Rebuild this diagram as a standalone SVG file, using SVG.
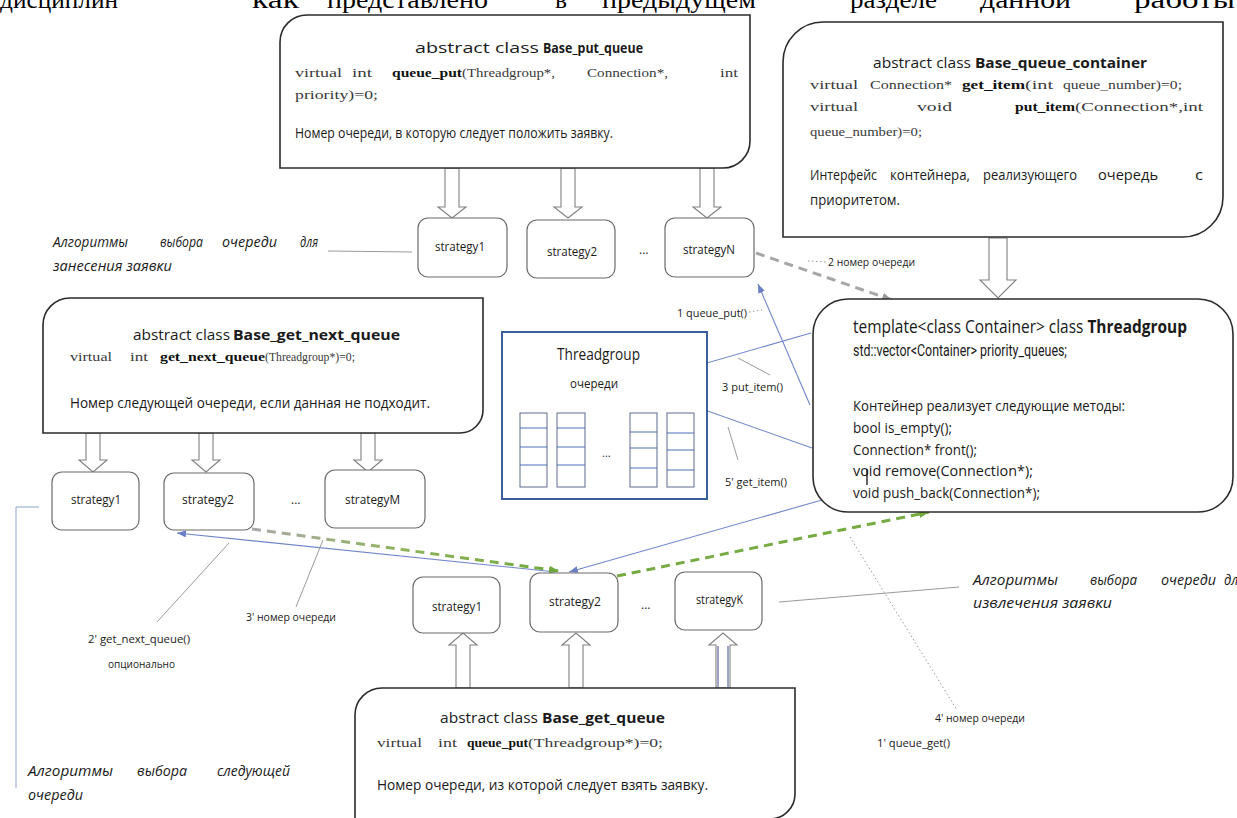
<svg xmlns="http://www.w3.org/2000/svg" width="1237" height="818" viewBox="0 0 1237 818">
<defs>
<style>
.box{fill:#fff;stroke:#2b2b2b;stroke-width:1.6}
.strat{fill:#fff;stroke:#6b6b6b;stroke-width:1.2}
.harrow{fill:#fff;stroke:#808080;stroke-width:1.1}
.t{font-family:"Open Sans","Liberation Sans",sans-serif;fill:#1a1a1a}
.title{font-size:15px}
.b{font-weight:bold}
.code{font-family:"Liberation Serif",serif;font-size:13.5px;fill:#3a3a3a}
.cb{font-family:"Liberation Serif",serif;font-size:13.5px;font-weight:bold;fill:#111}
.ru{font-size:14px}
.it{font-style:italic;font-size:14px}
.lbl{font-size:10px}
.st{font-size:12px}
.head{font-family:"Liberation Serif",serif;font-size:26px;fill:#000}
.blue{stroke:#7086cc;stroke-width:1.1;fill:none}
.lead{stroke:#9a9a9a;stroke-width:1;fill:none}
.dot{stroke:#9a9a9a;stroke-width:1;stroke-dasharray:1.5 2.5;fill:none}
.dash{stroke-width:3;stroke-dasharray:9 6;fill:none}
.col{fill:#fff;stroke:#5a6b8c;stroke-width:1}
.row{stroke:#4a6fb5;stroke-width:1}
</style>
<marker id="ab" markerUnits="userSpaceOnUse" markerWidth="9" markerHeight="7" refX="9" refY="3.5" orient="auto"><path d="M0,0 L9,3.5 L0,7 z" fill="#6a7fc8"/></marker>
<marker id="ag" markerUnits="userSpaceOnUse" markerWidth="10" markerHeight="8" refX="10" refY="4" orient="auto"><path d="M0,0 L10,4 L0,8 z" fill="#6fa83c"/></marker>
<marker id="ay" markerUnits="userSpaceOnUse" markerWidth="10" markerHeight="8" refX="10" refY="4" orient="auto"><path d="M0,0 L10,4 L0,8 z" fill="#9a9a9a"/></marker>
<marker id="agr" markerUnits="userSpaceOnUse" markerWidth="9" markerHeight="7" refX="9" refY="3.5" orient="auto"><path d="M0,0 L9,3.5 L0,7 z" fill="#8a8a8a"/></marker>
<linearGradient id="g1" gradientUnits="userSpaceOnUse" x1="252" y1="529" x2="560" y2="571"><stop offset="0" stop-color="#a8a8a8"/><stop offset="0.5" stop-color="#8fb35a"/><stop offset="1" stop-color="#6fa83c"/></linearGradient>
</defs>

<g id="heading">
<text class="head" x="0" y="8" textLength="118" lengthAdjust="spacingAndGlyphs">дисциплин</text>
<text class="head" x="252" y="8" textLength="47" lengthAdjust="spacingAndGlyphs">как</text>
<text class="head" x="327" y="8" textLength="161" lengthAdjust="spacingAndGlyphs">представлено</text>
<text class="head" x="555" y="8" textLength="12" lengthAdjust="spacingAndGlyphs">в</text>
<text class="head" x="602" y="8" textLength="154" lengthAdjust="spacingAndGlyphs">предыдущем</text>
<text class="head" x="850" y="8" textLength="87" lengthAdjust="spacingAndGlyphs">разделе</text>
<text class="head" x="980" y="8" textLength="91" lengthAdjust="spacingAndGlyphs">данной</text>
<text class="head" x="1134" y="8" textLength="101" lengthAdjust="spacingAndGlyphs">работы</text>
</g>

<g id="connectors">
<path class="harrow" d="M445,168 V207 H438 L452,218 L466,207 H459 V168 Z"/>
<path class="harrow" d="M561,168 V207 H554 L568,218 L582,207 H575 V168 Z"/>
<path class="harrow" d="M700,168 V207 H693 L707,218 L721,207 H714 V168 Z"/>
<path class="harrow" d="M989,238 V280 H980 L998,298 L1016,280 H1007 V238 Z"/>
<path class="harrow" d="M86,433 V460 H79 L93,472 L107,460 H100 V433 Z"/>
<path class="harrow" d="M199,433 V460 H192 L206,472 L220,460 H213 V433 Z"/>
<path class="harrow" d="M361,433 V460 H354 L368,472 L382,460 H375 V433 Z"/>
<path class="harrow" d="M456,688 V645 H449 L463,633 L477,645 H470 V688 Z"/>
<path class="harrow" d="M569,688 V645 H562 L576,633 L590,645 H583 V688 Z"/>
<path class="harrow" d="M716,688 V645 H709 L723,633 L737,645 H730 V688 Z"/>
<line x1="718" y1="646" x2="718" y2="687" stroke="#3d4a8a" stroke-width="1"/>
<line x1="728" y1="646" x2="728" y2="687" stroke="#3d4a8a" stroke-width="1"/>

<line class="blue" x1="810" y1="405" x2="758" y2="284" marker-end="url(#ab)"/>
<line class="blue" x1="811" y1="333" x2="537" y2="412" marker-end="url(#ab)"/>
<polyline class="blue" points="812,448 657,393"/>
<line x1="657" y1="393" x2="644" y2="410" stroke="#8a8a8a" stroke-width="1.1" marker-end="url(#agr)"/>
<line class="blue" x1="822" y1="500" x2="569" y2="572" marker-end="url(#ab)"/>
<line class="blue" x1="556" y1="572" x2="177" y2="533" marker-end="url(#ab)"/>

<line class="dash" x1="756" y1="253" x2="892" y2="300" stroke="#a6a6a6" marker-end="url(#ay)"/>
<line class="dash" x1="252" y1="529" x2="559" y2="571" stroke="url(#g1)" marker-end="url(#ag)"/>
<line class="dash" x1="617" y1="576" x2="929" y2="512" stroke="#76aa42" marker-end="url(#ag)"/>

<line class="lead" x1="328" y1="251" x2="412" y2="252"/>
<line class="lead" x1="738" y1="358" x2="770" y2="375"/>
<line class="lead" x1="728" y1="427" x2="738" y2="460"/>
<line class="lead" x1="296" y1="607" x2="323" y2="540"/>
<line class="lead" x1="157" y1="622" x2="229" y2="543"/>
<polyline points="39,507 16,507 16,788" fill="none" stroke="#8ea3c8" stroke-width="1"/>
<line class="lead" x1="779" y1="602" x2="959" y2="587" stroke="#888"/>
<line class="dot" x1="850" y1="537" x2="957" y2="710"/>
<line class="dot" x1="808" y1="261" x2="826" y2="262"/>
<line class="dot" x1="749" y1="312" x2="762" y2="310"/>
</g>

<g id="base_put_queue">
<path class="box" d="M307,15 H750 V141 A27,27 0 0 1 723,168 H280 V42 A27,27 0 0 1 307,15 Z"/>
<text class="t title" x="415" y="53" textLength="124" lengthAdjust="spacingAndGlyphs">abstract class</text>
<text class="t title b" x="543" y="53" textLength="100" lengthAdjust="spacingAndGlyphs">Base_put_queue</text>
<text class="code" x="295" y="77" textLength="47" lengthAdjust="spacingAndGlyphs">virtual</text>
<text class="code" x="352" y="77" textLength="20" lengthAdjust="spacingAndGlyphs">int</text>
<text class="cb" x="392" y="77" textLength="70" lengthAdjust="spacingAndGlyphs">queue_put</text>
<text class="code" x="462" y="77" textLength="93" lengthAdjust="spacingAndGlyphs">(Threadgroup*,</text>
<text class="code" x="587" y="77" textLength="81" lengthAdjust="spacingAndGlyphs">Connection*,</text>
<text class="code" x="720" y="77" textLength="18" lengthAdjust="spacingAndGlyphs">int</text>
<text class="code" x="295" y="99" textLength="83" lengthAdjust="spacingAndGlyphs">priority)=0;</text>
<text class="t ru" x="295" y="138" textLength="318" lengthAdjust="spacingAndGlyphs">Номер очереди, в которую следует положить заявку.</text>
</g>

<g id="base_queue_container">
<path class="box" d="M823,22 H1223 V197 A40,40 0 0 1 1183,237 H783 V62 A40,40 0 0 1 823,22 Z"/>
<text class="t title" x="873" y="68" textLength="98" lengthAdjust="spacingAndGlyphs">abstract class</text>
<text class="t title b" x="975" y="68" textLength="172" lengthAdjust="spacingAndGlyphs">Base_queue_container</text>
<text class="code" x="810" y="89" textLength="48" lengthAdjust="spacingAndGlyphs">virtual</text>
<text class="code" x="870" y="89" textLength="82" lengthAdjust="spacingAndGlyphs">Connection*</text>
<text class="cb" x="962" y="89" textLength="63" lengthAdjust="spacingAndGlyphs">get_item</text>
<text class="code" x="1025" y="89" textLength="28" lengthAdjust="spacingAndGlyphs">(int</text>
<text class="code" x="1063" y="89" textLength="119" lengthAdjust="spacingAndGlyphs">queue_number)=0;</text>
<text class="code" x="810" y="111" textLength="48" lengthAdjust="spacingAndGlyphs">virtual</text>
<text class="code" x="917" y="111" textLength="35" lengthAdjust="spacingAndGlyphs">void</text>
<text class="cb" x="1015" y="111" textLength="60" lengthAdjust="spacingAndGlyphs">put_item</text>
<text class="code" x="1075" y="111" textLength="128" lengthAdjust="spacingAndGlyphs">(Connection*,int</text>
<text class="code" x="810" y="136" textLength="112" lengthAdjust="spacingAndGlyphs">queue_number)=0;</text>
<text class="t ru" x="810" y="180" textLength="67" lengthAdjust="spacingAndGlyphs">Интерфейс</text>
<text class="t ru" x="890" y="180" textLength="80" lengthAdjust="spacingAndGlyphs">контейнера,</text>
<text class="t ru" x="983" y="180" textLength="94" lengthAdjust="spacingAndGlyphs">реализующего</text>
<text class="t ru" x="1098" y="180" textLength="60" lengthAdjust="spacingAndGlyphs">очередь</text>
<text class="t ru" x="1195" y="180" textLength="8" lengthAdjust="spacingAndGlyphs">с</text>
<text class="t ru" x="810" y="205" textLength="90" lengthAdjust="spacingAndGlyphs">приоритетом.</text>
</g>

<g id="label_put_algos">
<text class="t it" x="53" y="247" textLength="75" lengthAdjust="spacingAndGlyphs">Алгоритмы</text>
<text class="t it" x="160" y="247" textLength="43" lengthAdjust="spacingAndGlyphs">выбора</text>
<text class="t it" x="222" y="247" textLength="55" lengthAdjust="spacingAndGlyphs">очереди</text>
<text class="t it" x="300" y="247" textLength="18" lengthAdjust="spacingAndGlyphs">для</text>
<text class="t it" x="53" y="271" textLength="119" lengthAdjust="spacingAndGlyphs">занесения заявки</text>
</g>

<g id="put_strategies">
<rect class="strat" x="418" y="218" width="89" height="59" rx="10"/>
<text class="t st" x="435" y="251" textLength="50" lengthAdjust="spacingAndGlyphs">strategy1</text>
<rect class="strat" x="527" y="220" width="88" height="58" rx="10"/>
<text class="t st" x="547" y="256" textLength="50" lengthAdjust="spacingAndGlyphs">strategy2</text>
<text class="t st" x="639" y="254">...</text>
<rect class="strat" x="665" y="218" width="89" height="59" rx="10"/>
<text class="t st" x="683" y="254" textLength="52" lengthAdjust="spacingAndGlyphs">strategyN</text>
</g>

<g id="base_get_next_queue">
<path class="box" d="M70,298 H483 V410 A23,23 0 0 1 460,433 H43 V325 A27,27 0 0 1 70,298 Z"/>
<text class="t title" x="133" y="340" textLength="97" lengthAdjust="spacingAndGlyphs">abstract class</text>
<text class="t title b" x="233" y="340" textLength="167" lengthAdjust="spacingAndGlyphs">Base_get_next_queue</text>
<text class="code" x="70" y="361" textLength="42" lengthAdjust="spacingAndGlyphs">virtual</text>
<text class="code" x="130" y="361" textLength="18" lengthAdjust="spacingAndGlyphs">int</text>
<text class="cb" x="160" y="361" textLength="105" lengthAdjust="spacingAndGlyphs">get_next_queue</text>
<text class="code" x="265" y="361" textLength="90" lengthAdjust="spacingAndGlyphs">(Threadgroup*)=0;</text>
<text class="t ru" x="70" y="408" textLength="360" lengthAdjust="spacingAndGlyphs">Номер следующей очереди, если данная не подходит.</text>
</g>

<g id="threadgroup_queues">
<rect x="502" y="332" width="205" height="167" fill="#fff" stroke="#3a5f9c" stroke-width="2"/>
<text class="t" x="557" y="360" font-size="16" textLength="83" lengthAdjust="spacingAndGlyphs">Threadgroup</text>
<text class="t" x="570" y="388" font-size="13" textLength="48" lengthAdjust="spacingAndGlyphs">очереди</text>
<rect class="col" x="520" y="413" width="27" height="74"/>
<line class="row" x1="520" y1="428" x2="547" y2="428"/><line class="row" x1="520" y1="447" x2="547" y2="447"/><line class="row" x1="520" y1="465" x2="547" y2="465"/>
<rect class="col" x="557" y="413" width="28" height="74"/>
<line class="row" x1="557" y1="428" x2="585" y2="428"/><line class="row" x1="557" y1="447" x2="585" y2="447"/><line class="row" x1="557" y1="465" x2="585" y2="465"/>
<text class="t" x="602" y="457" font-size="11">...</text>
<rect class="col" x="630" y="413" width="27" height="74"/>
<line class="row" x1="630" y1="432" x2="657" y2="432"/><line class="row" x1="630" y1="448" x2="657" y2="448"/><line class="row" x1="630" y1="468" x2="657" y2="468"/>
<rect class="col" x="667" y="413" width="27" height="74"/>
<line class="row" x1="667" y1="433" x2="694" y2="433"/><line class="row" x1="667" y1="450" x2="694" y2="450"/><line class="row" x1="667" y1="470" x2="694" y2="470"/>
</g>

<g id="threadgroup_template">
<rect class="box" x="813" y="299" width="420" height="213" rx="35" stroke="#555" stroke-width="1.3"/>
<text class="t" x="853" y="333" font-size="18" textLength="334" lengthAdjust="spacingAndGlyphs">template&lt;class Container&gt; class <tspan font-weight="bold">Threadgroup</tspan></text>
<text x="853" y="356" font-family="Roboto,'Liberation Sans',sans-serif" font-size="16" fill="#1a1a1a" textLength="214" lengthAdjust="spacingAndGlyphs">std::vector&lt;Container&gt; priority_queues;</text>
<text class="t ru" x="853" y="411" textLength="272" lengthAdjust="spacingAndGlyphs">Контейнер реализует следующие методы:</text>
<text class="t ru" x="853" y="433" textLength="99" lengthAdjust="spacingAndGlyphs">bool is_empty();</text>
<text class="t ru" x="853" y="455" textLength="124" lengthAdjust="spacingAndGlyphs">Connection* front();</text>
<text class="t ru" x="853" y="476" textLength="180" lengthAdjust="spacingAndGlyphs">void remove(Connection*);</text>
<text class="t ru" x="853" y="498" textLength="187" lengthAdjust="spacingAndGlyphs">void push_back(Connection*);</text>
<line x1="867" y1="469" x2="867" y2="485" stroke="#111" stroke-width="1.3"/>
</g>

<g id="next_strategies">
<rect class="strat" x="52" y="472" width="87" height="58" rx="10"/>
<text class="t st" x="71" y="504" textLength="50" lengthAdjust="spacingAndGlyphs">strategy1</text>
<rect class="strat" x="164" y="473" width="90" height="57" rx="10"/>
<text class="t st" x="182" y="504" textLength="52" lengthAdjust="spacingAndGlyphs">strategy2</text>
<text class="t st" x="291" y="504">...</text>
<rect class="strat" x="325" y="470" width="100" height="58" rx="10"/>
<text class="t st" x="345" y="504" textLength="55" lengthAdjust="spacingAndGlyphs">strategyM</text>
</g>

<g id="get_strategies">
<rect class="strat" x="413" y="577" width="87" height="56" rx="10"/>
<text class="t st" x="432" y="611" textLength="50" lengthAdjust="spacingAndGlyphs">strategy1</text>
<rect class="strat" x="530" y="573" width="88" height="59" rx="10"/>
<text class="t st" x="549" y="606" textLength="52" lengthAdjust="spacingAndGlyphs">strategy2</text>
<text class="t st" x="641" y="609">...</text>
<rect class="strat" x="675" y="572" width="87" height="58" rx="10"/>
<text class="t st" x="696" y="604" textLength="47" lengthAdjust="spacingAndGlyphs">strategyK</text>
</g>

<g id="base_get_queue">
<path class="box" d="M382,688 H795 V794 A25,25 0 0 1 770,819 H355 V715 A27,27 0 0 1 382,688 Z"/>
<text class="t title" x="440" y="723" textLength="98" lengthAdjust="spacingAndGlyphs">abstract class</text>
<text class="t title b" x="542" y="723" textLength="123" lengthAdjust="spacingAndGlyphs">Base_get_queue</text>
<text class="code" x="377" y="747" textLength="45" lengthAdjust="spacingAndGlyphs">virtual</text>
<text class="code" x="438" y="747" textLength="19" lengthAdjust="spacingAndGlyphs">int</text>
<text class="cb" x="467" y="747" textLength="61" lengthAdjust="spacingAndGlyphs">queue_put</text>
<text class="code" x="528" y="747" textLength="135" lengthAdjust="spacingAndGlyphs">(Threadgroup*)=0;</text>
<text class="t ru" x="377" y="790" textLength="331" lengthAdjust="spacingAndGlyphs">Номер очереди, из которой следует взять заявку.</text>
</g>

<g id="label_get_algos">
<text class="t it" x="973" y="585" textLength="85" lengthAdjust="spacingAndGlyphs">Алгоритмы</text>
<text class="t it" x="1090" y="585" textLength="47" lengthAdjust="spacingAndGlyphs">выбора</text>
<text class="t it" x="1161" y="585" textLength="55" lengthAdjust="spacingAndGlyphs">очереди</text>
<text class="t it" x="1224" y="585" textLength="21" lengthAdjust="spacingAndGlyphs">для</text>
<text class="t it" x="973" y="608" textLength="139" lengthAdjust="spacingAndGlyphs">извлечения заявки</text>
</g>

<g id="label_next_algos">
<text class="t it" x="28" y="776" textLength="85" lengthAdjust="spacingAndGlyphs">Алгоритмы</text>
<text class="t it" x="137" y="776" textLength="50" lengthAdjust="spacingAndGlyphs">выбора</text>
<text class="t it" x="217" y="776" textLength="73" lengthAdjust="spacingAndGlyphs">следующей</text>
<text class="t it" x="28" y="800" textLength="55" lengthAdjust="spacingAndGlyphs">очереди</text>
</g>

<g id="step_labels">
<text class="t lbl" x="828" y="266" textLength="87" lengthAdjust="spacingAndGlyphs">2 номер очереди</text>
<text class="t lbl" x="677" y="317" textLength="70" lengthAdjust="spacingAndGlyphs">1 queue_put()</text>
<text class="t lbl" x="722" y="391" textLength="61" lengthAdjust="spacingAndGlyphs">3 put_item()</text>
<text class="t lbl" x="725" y="486" textLength="62" lengthAdjust="spacingAndGlyphs">5' get_item()</text>
<text class="t lbl" x="246" y="621" textLength="90" lengthAdjust="spacingAndGlyphs">3' номер очереди</text>
<text class="t lbl" x="88" y="643" textLength="102" lengthAdjust="spacingAndGlyphs">2' get_next_queue()</text>
<text class="t lbl" x="108" y="668" textLength="67" lengthAdjust="spacingAndGlyphs">опционально</text>
<text class="t lbl" x="935" y="722" textLength="90" lengthAdjust="spacingAndGlyphs">4' номер очереди</text>
<text class="t lbl" x="877" y="747" textLength="73" lengthAdjust="spacingAndGlyphs">1' queue_get()</text>
</g>
</svg>
